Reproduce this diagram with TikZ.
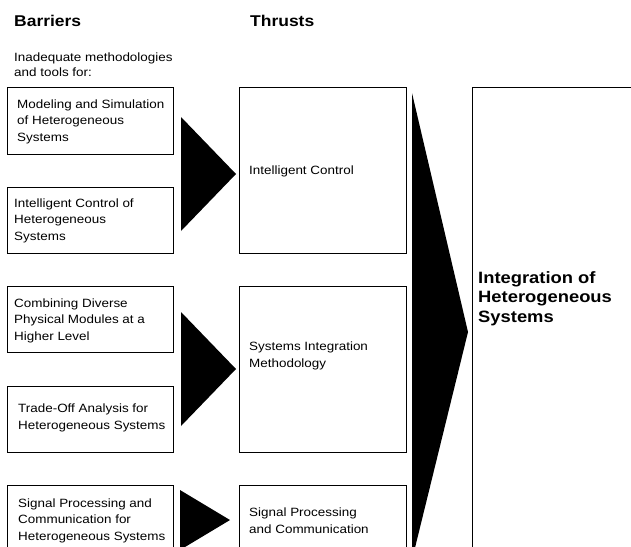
\documentclass[tikz,border=0pt]{standalone}
\usepackage{fontspec}
\setmainfont{Liberation Sans}[FakeStretch=1.12]
\begin{document}
\begin{tikzpicture}[x=1pt,y=-1pt,
  box/.style={draw=black, line width=1.1pt, fill=white, anchor=north west, inner sep=0pt},
  txt/.style={anchor=base west, align=left, inner sep=0pt, font=\fontsize{12}{16.5}\selectfont},
  head/.style={anchor=base west, inner sep=0pt, font=\fontsize{15.6}{18}\selectfont\bfseries},
  goaltxt/.style={anchor=base west, align=left, inner sep=0pt, font=\fontsize{16.4}{19.5}\selectfont\bfseries},
  wedge/.style={fill=black, draw=none}]
\useasboundingbox (0,0) rectangle (631,546);
\clip (0,0) rectangle (631,546);

% column headings
\node[head] (hbar) at (14,26) {Barriers};
\node[head] (hthr) at (250,26) {Thrusts};
% multi-line texts are placed by the baseline of their last line
\node[txt, font=\fontsize{12}{15}\selectfont] (intro) at (14,76) {Inadequate methodologies\\and tools for:};

% barrier boxes
\node[box, minimum width=166pt, minimum height=67pt] (b1) at (7,87) {};
\node[box, minimum width=166pt, minimum height=66pt] (b2) at (7,187) {};
\node[box, minimum width=166pt, minimum height=66pt] (b3) at (7,286) {};
\node[box, minimum width=166pt, minimum height=66pt] (b4) at (7,386) {};
\node[box, minimum width=166pt, minimum height=110pt] (b5) at (7,485) {};

% thrust boxes
\node[box, minimum width=167pt, minimum height=166pt] (tA) at (239,87) {};
\node[box, minimum width=167pt, minimum height=166pt] (tB) at (239,286) {};
\node[box, minimum width=167pt, minimum height=110pt] (tC) at (239,485) {};

% goal box
\node[box, minimum width=220pt, minimum height=520pt] (goal) at (472,87) {};

% arrows from barriers to thrusts
\fill[wedge] (181,117) -- (236,174) -- (181,231) -- cycle;
\fill[wedge] (181,312) -- (236,369) -- (181,426) -- cycle;
\fill[wedge] (180,490) -- (230,520) -- (180,550) -- cycle;
% arrow from thrusts to the goal
\fill[wedge] (412,93) -- (468,332) -- (412,560) -- cycle;

% box texts
\node[txt] (b1t) at (17,141) {Modeling and Simulation\\of Heterogeneous\\Systems};
\node[txt] (b2t) at (14,240) {Intelligent Control of\\Heterogeneous\\Systems};
\node[txt] (b3t) at (14,340) {Combining Diverse\\Physical Modules at a\\Higher Level};
\node[txt] (b4t) at (18,429) {Trade-Off Analysis for\\Heterogeneous Systems};
\node[txt] (b5t) at (18,540) {Signal Processing and\\Communication for\\Heterogeneous Systems};

\node[txt] (tAt) at (249,174) {Intelligent Control};
\node[txt] (tBt) at (249,367) {Systems Integration\\Methodology};
\node[txt] (tCt) at (249,533) {Signal Processing\\and Communication};

\node[goaltxt] (goalt) at (478,322) {Integration of\\Heterogeneous\\Systems};
\end{tikzpicture}
\end{document}
